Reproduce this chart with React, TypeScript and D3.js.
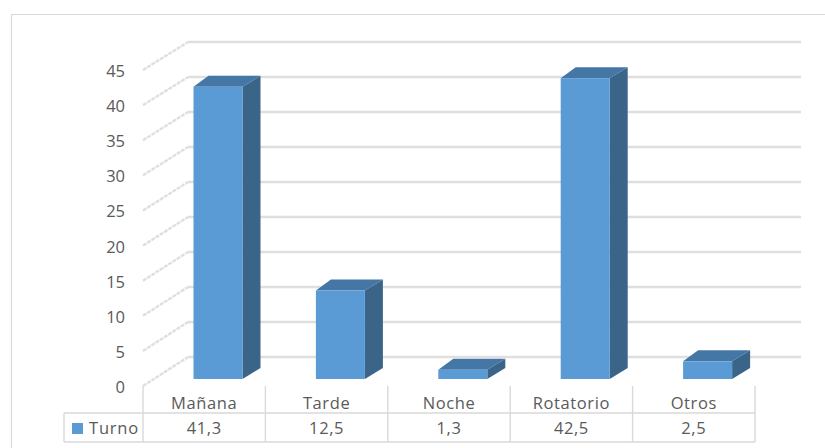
import React from "react";
import * as d3 from "d3";

const categories = ["Mañana", "Tarde", "Noche", "Rotatorio", "Otros"];
const turnoValues = [41.3, 12.5, 1.3, 42.5, 2.5];
const valueLabels = ["41,3", "12,5", "1,3", "42,5", "2,5"];
const seriesName = "Turno";
const axisTicks = [0, 5, 10, 15, 20, 25, 30, 35, 40, 45];

const WIDTH = 825;
const HEIGHT = 448;
const FONT = "'Open Sans', 'Noto Sans', sans-serif";
const TEXT = "#5a5a5a";
const GRID = "#dfdfdf";
const RULE = "#d9d9d9";

// The floor of the 3D box: front edge scale, back wall scale, and the bars in between.
const frontY = d3.scaleLinear().domain([0, 45]).range([386, 70]);
const backY = d3.scaleLinear().domain([0, 45]).range([357, 42]);
const barY = d3.scaleLinear().domain([0, 45]).range([379, 60.5]);
const columns = d3.scaleBand<string>().domain(categories).range([143, 755]);

const FRONT_X = 143;
const BACK_X = 188;
const WALL_END = 801;
const BAR_WIDTH = 49;
const BAR_OFFSET = 50.5; // bars sit on the floor, a little behind the front edge
const DEPTH_X = 18;
const DEPTH_Y = 11;
const TOP_LEFT_X = 15;
const TABLE_TOP = 413;
const TABLE_BOTTOM = 442;
const TABLE_LEFT = 64;

function pts(list: [number, number][]) {
  return list.map((p) => p.join(",")).join(" ");
}

export default function App() {
  const edges = categories.map((c) => columns(c) as number);
  const right = 755;
  return (
    <svg
      width={WIDTH}
      height={HEIGHT}
      style={{ position: "absolute", left: 0, top: 0, display: "block" }}
      fontFamily={FONT}
    >
      <rect width={WIDTH} height={HEIGHT} fill="#fff" />
      <path d={`M11.5,${HEIGHT}V14.5H${WIDTH}`} fill="none" stroke={RULE} strokeWidth={1.2} />

      {axisTicks.map((t) => (
        <g key={t}>
          <line
            x1={FRONT_X}
            y1={frontY(t)}
            x2={BACK_X}
            y2={backY(t)}
            stroke={GRID}
            strokeWidth={2.4}
            strokeDasharray="4 1"
          />
          <line x1={BACK_X} y1={backY(t)} x2={WALL_END} y2={backY(t)} stroke={GRID} strokeWidth={2.6} />
          <text x={125} y={frontY(t) + 7} textAnchor="end" fontSize={16.5} fill={TEXT}>
            {t}
          </text>
        </g>
      ))}

      {categories.map((c, i) => {
        const x = (columns(c) as number) + BAR_OFFSET;
        const top = barY(turnoValues[i]);
        const base = barY(0);
        const xr = x + BAR_WIDTH;
        return (
          <g key={c}>
            <polygon
              points={pts([
                [xr, top],
                [xr + DEPTH_X, top - DEPTH_Y],
                [xr + DEPTH_X, base - DEPTH_Y],
                [xr, base],
              ])}
              fill="#3a6488"
            />
            <polygon
              points={pts([
                [x, top],
                [x + TOP_LEFT_X, top - DEPTH_Y],
                [xr + DEPTH_X, top - DEPTH_Y],
                [xr, top],
              ])}
              fill="#4476a6"
            />
            <rect x={x} y={top} width={BAR_WIDTH} height={base - top} fill="#5b9bd5" />
          </g>
        );
      })}

      {/* Data table under the plot */}
      <g stroke={RULE} strokeWidth={1.4} fill="none">
        <path d={`M${TABLE_LEFT},${TABLE_TOP}H${right}M${TABLE_LEFT},${TABLE_BOTTOM}H${right}M${TABLE_LEFT},${TABLE_TOP}V${TABLE_BOTTOM}`} />
        {[...edges, right].map((x) => (
          <line key={x} x1={x} x2={x} y1={386} y2={TABLE_BOTTOM} />
        ))}
      </g>
      <rect x={72} y={423} width={11} height={11} fill="#5b9bd5" />
      <text x={89} y={434} fontSize={16.5} letterSpacing={0.8} fill={TEXT}>
        {seriesName}
      </text>
      {categories.map((c, i) => {
        const cx = (columns(c) as number) + columns.bandwidth() / 2;
        return (
          <g key={c} fontSize={16.5} fill={TEXT} textAnchor="middle" letterSpacing={0.6}>
            <text x={cx} y={408.5}>{c}</text>
            <text x={cx} y={434}>{valueLabels[i]}</text>
          </g>
        );
      })}
    </svg>
  );
}
